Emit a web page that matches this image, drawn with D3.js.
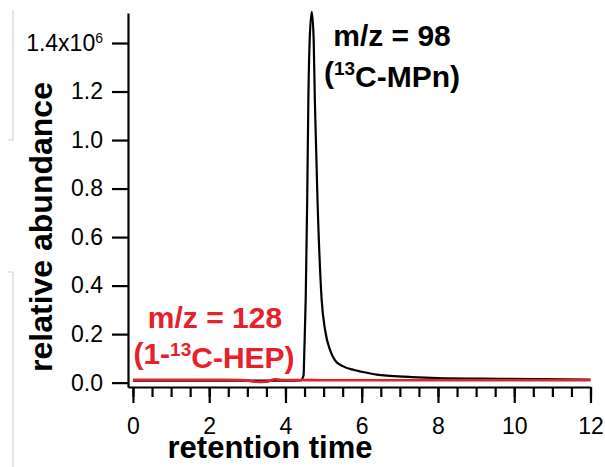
<!DOCTYPE html>
<meta charset="utf-8">
<style>
body { margin: 0; background: #fff; }
text { font-family: "Liberation Sans", Arial, sans-serif; }
.axis path, .axis line { stroke: #000; stroke-width: 2.2px; }
.axis text { font-size: 23px; fill: #000; }
</style>
<body>
<script src="https://d3js.org/d3.v7.min.js"></script>
<script>
// retention time (min) and abundance (x10^6)
var mpnTime = [0, 2, 3, 4, 4.40, 4.475, 4.495, 4.53, 4.57, 4.60, 4.635, 4.69, 4.74, 4.77, 4.84, 4.95, 5.04, 5.17, 5.30, 5.50, 5.80, 6.0, 6.39, 6.74, 7.3, 8.0, 9.6, 12];
var mpnAbund = [0.008, 0.008, 0.008, 0.008, 0.009, 0.031, 0.134, 0.340, 0.753, 1.165, 1.412, 1.528, 1.412, 1.165, 0.753, 0.340, 0.216, 0.134, 0.092, 0.068, 0.052, 0.045, 0.033, 0.028, 0.023, 0.019, 0.016, 0.013];

var hepTime = [0, 1, 2, 2.9, 3.1, 3.3, 3.5, 3.73, 3.9, 4.2, 5, 6, 8, 10, 12];
var hepAbund = [0.012, 0.012, 0.012, 0.011, 0.006, 0.003, 0.004, 0.014, 0.011, 0.011, 0.010, 0.010, 0.010, 0.010, 0.010];

var xTicks = [0, 2, 4, 6, 8, 10, 12];
var yTicks = [0, 0.2, 0.4, 0.6, 0.8, 1.0, 1.2, 1.4];

var width = 605, height = 467;

var svg = d3.select("body").append("svg")
    .attr("width", width)
    .attr("height", height);

var x = d3.scaleLinear().domain([-0.13, 12]).range([128, 590.5]);
var y = d3.scaleLinear().domain([-0.018, 1.5237]).range([387, 13]);

// faint crop marks at the left edge of the original figure
svg.append("path")
    .attr("d", "M13,10V140H8M8,272H13V467")
    .attr("fill", "none")
    .attr("stroke", "#cfcfcf")
    .attr("stroke-width", 1);

// y axis
var yAxis = svg.append("g")
    .attr("class", "axis")
    .attr("transform", "translate(128,0)")
    .call(d3.axisLeft(y).tickValues(yTicks).tickSize(16).tickPadding(9).tickSizeOuter(0)
        .tickFormat(function(d) { return d.toFixed(1); }));

// top label gets the x10^6 factor
yAxis.selectAll(".tick text")
    .filter(function(d) { return d == 1.4; })
    .text("1.4x10")
    .append("tspan")
    .attr("dy", "-0.55em")
    .style("font-size", "14px")
    .text("6");

// x axis with minor ticks every 0.5
var xAxis = svg.append("g")
    .attr("class", "axis")
    .attr("transform", "translate(0,387)");

xAxis.call(d3.axisBottom(x).tickValues(d3.range(0, 12.01, 0.5)).tickSize(10).tickSizeOuter(0).tickFormat(""));
xAxis.append("g")
    .call(d3.axisBottom(x).tickValues(xTicks).tickSize(16).tickPadding(15).tickSizeOuter(0))
    .select(".domain").remove();

// traces
var line = d3.line()
    .x(function(d) { return x(d[0]); })
    .y(function(d) { return y(d[1]); })
    .curve(d3.curveMonotoneX);

svg.append("path")
    .datum(d3.zip(mpnTime, mpnAbund))
    .attr("d", line)
    .attr("fill", "none")
    .attr("stroke", "#000")
    .attr("stroke-width", 2.2);

svg.append("path")
    .datum(d3.zip(hepTime, hepAbund))
    .attr("d", line)
    .attr("fill", "none")
    .attr("stroke", "#e8202a")
    .attr("stroke-width", 2.6);

// axis titles
svg.append("text")
    .attr("x", 270)
    .attr("y", 458)
    .attr("text-anchor", "middle")
    .style("font-size", "31px")
    .style("font-weight", "bold")
    .text("retention time");

svg.append("text")
    .attr("transform", "translate(52,227) rotate(-90)")
    .attr("text-anchor", "middle")
    .style("font-size", "32px")
    .style("font-weight", "bold")
    .text("relative abundance");

// annotations
function label(cx, cy, color, pre, sup, post) {
    var t = svg.append("text")
        .attr("x", cx)
        .attr("y", cy)
        .attr("text-anchor", "middle")
        .style("font-size", "30px")
        .style("font-weight", "bold")
        .style("fill", color);
    t.append("tspan").text(pre);
    t.append("tspan").attr("dy", "-0.4em").style("font-size", "19px").text(sup);
    t.append("tspan").attr("dy", "0.4em").text(post);
}

svg.append("text")
    .attr("x", 392).attr("y", 46)
    .attr("text-anchor", "middle")
    .style("font-size", "30px").style("font-weight", "bold")
    .text("m/z = 98");
label(392, 83, "#000", "(", "13", "C-MPn)");

svg.append("text")
    .attr("x", 215).attr("y", 328)
    .attr("text-anchor", "middle")
    .style("font-size", "30px").style("font-weight", "bold")
    .style("fill", "#e8202a")
    .text("m/z = 128");
label(214, 364, "#e8202a", "(1-", "13", "C-HEP)");
</script>
